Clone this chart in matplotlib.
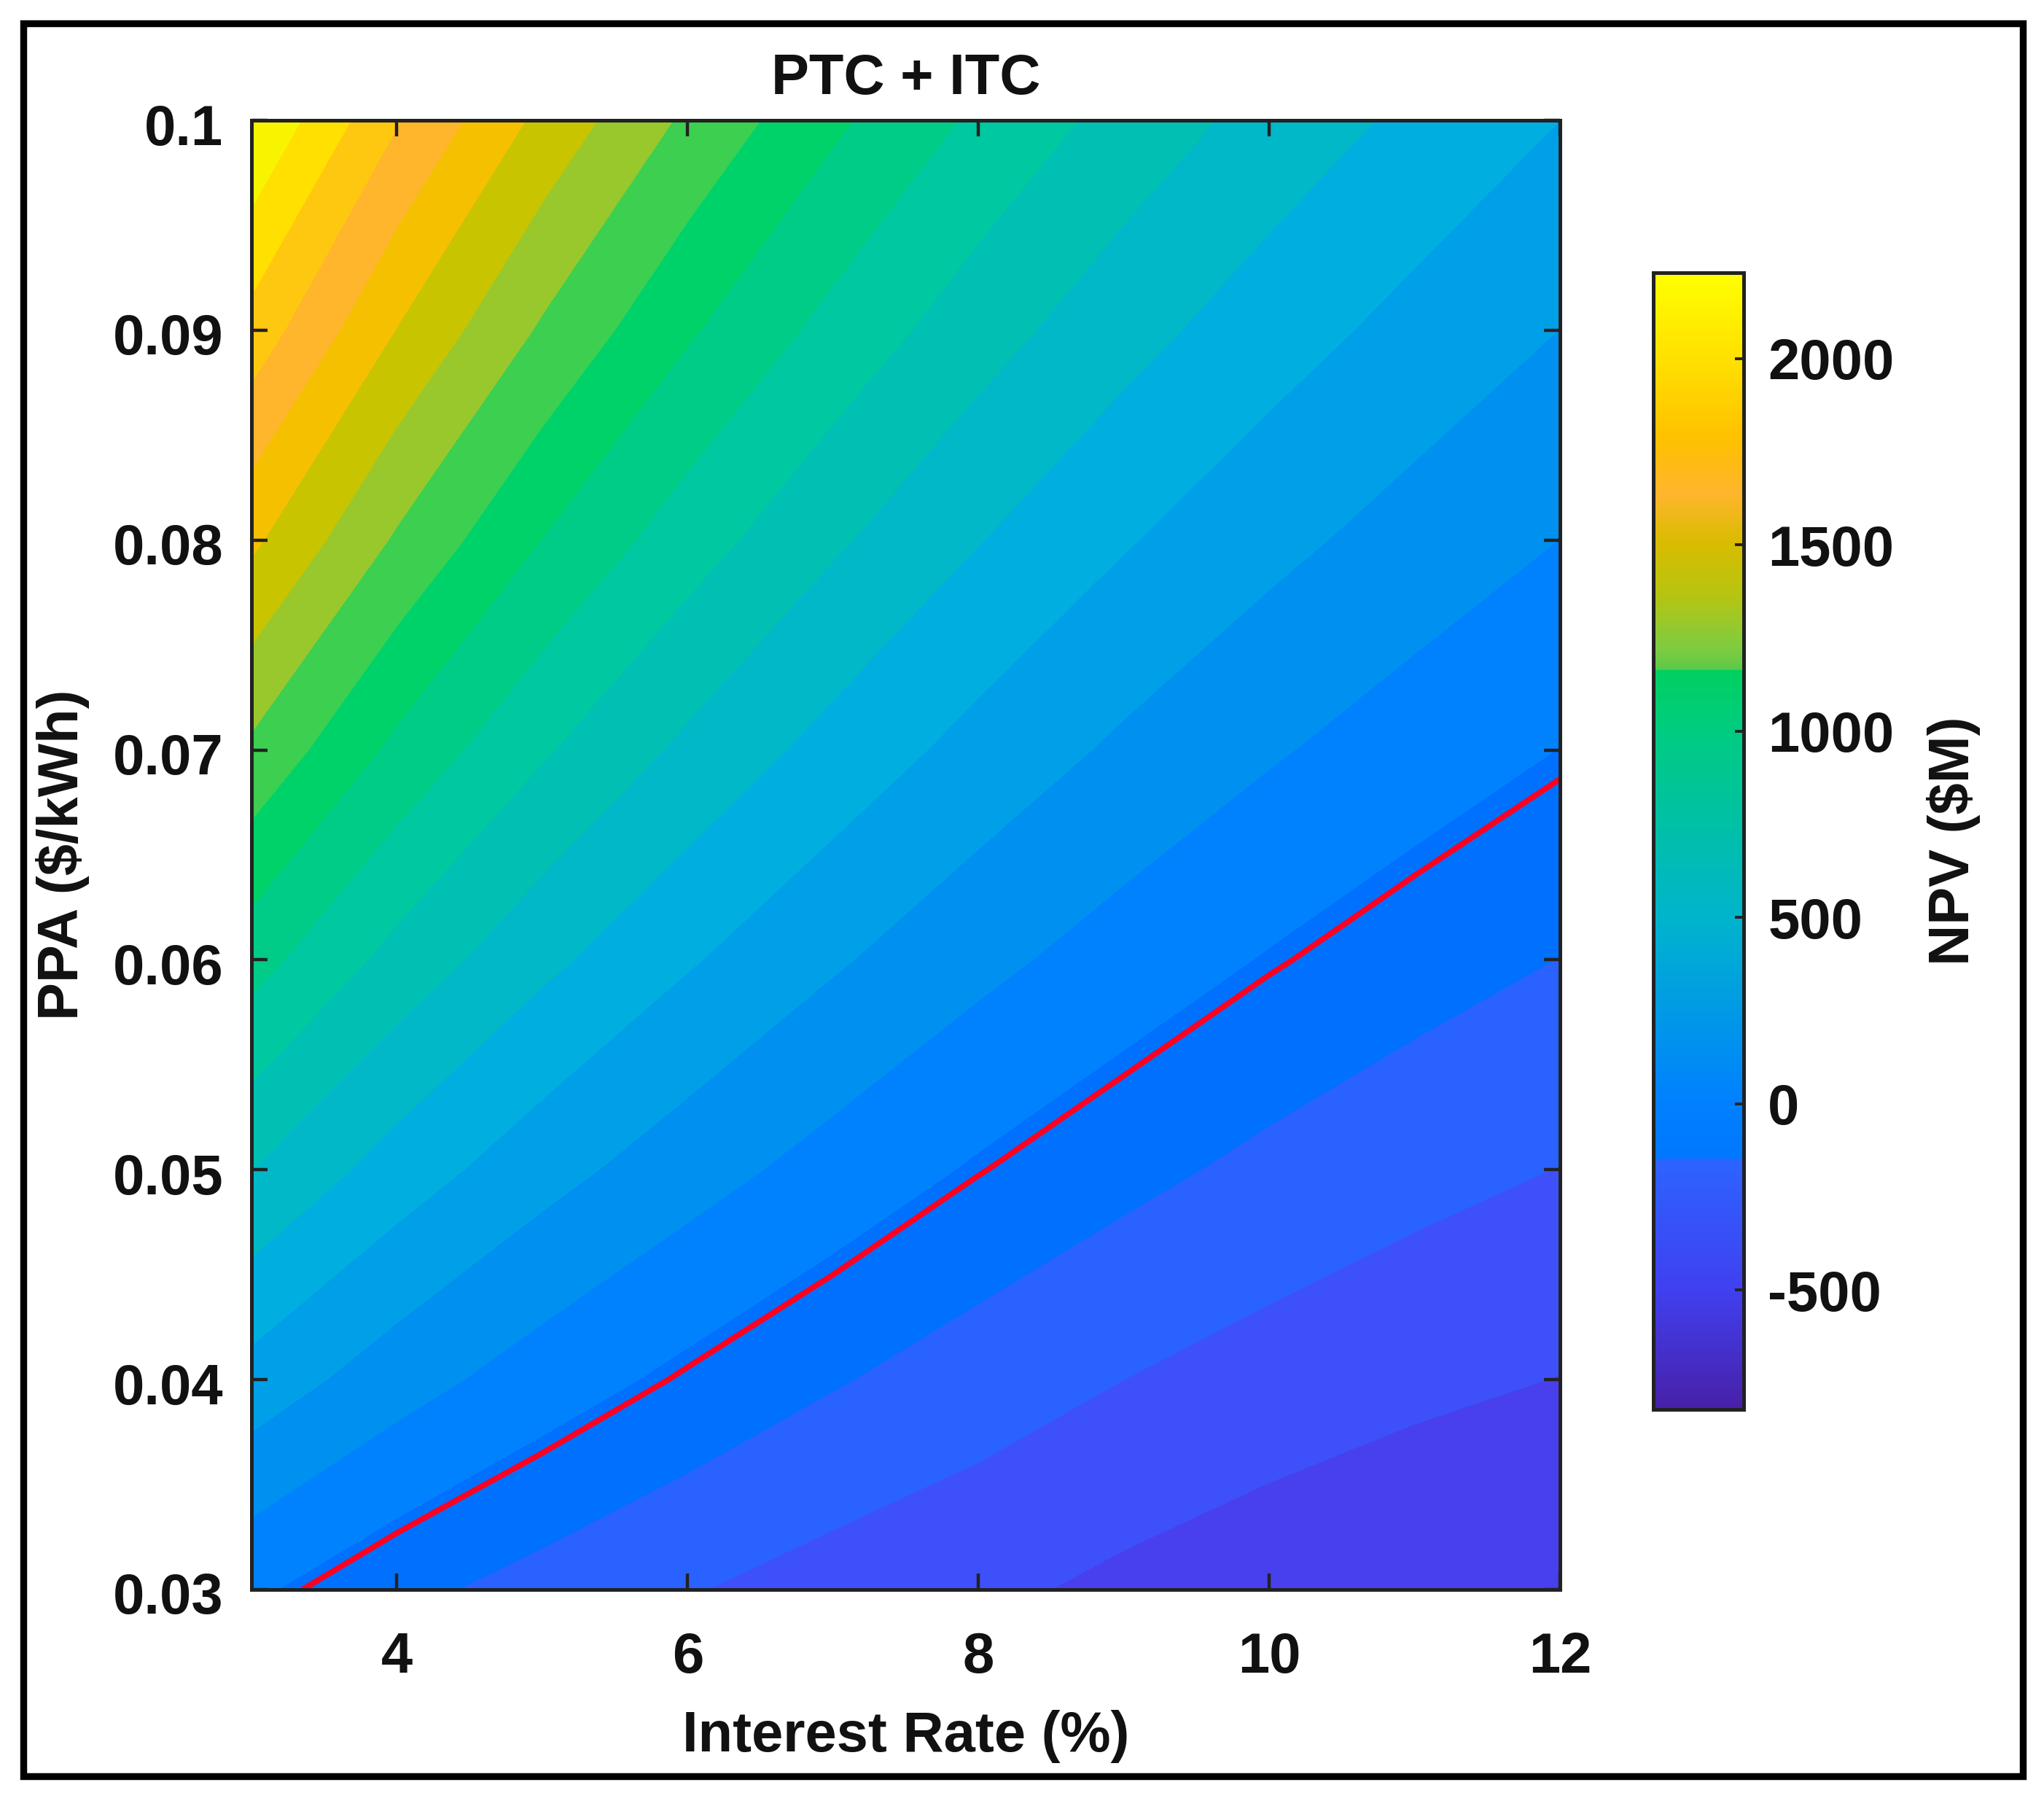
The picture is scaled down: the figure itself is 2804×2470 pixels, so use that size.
import matplotlib
matplotlib.use("Agg")
import matplotlib.pyplot as plt
import numpy as np
from matplotlib.cm import ScalarMappable
from matplotlib.colors import LinearSegmentedColormap, Normalize
from matplotlib.patches import Rectangle
from matplotlib.transforms import ScaledTranslation

# data
INTEREST_RATE = [3, 4, 5, 6, 7, 8, 9, 10, 11, 12]
PPA = [0.03, 0.04, 0.05, 0.06, 0.07, 0.08, 0.09, 0.10]
NPV_AT_3 = [41, 359, 671, 982, 1294, 1606, 1918, 2230]
NPV_AT_4 = [-76, 206, 480, 754, 1028, 1302, 1576, 1850]
NPV_AT_5 = [-158, 85, 328, 572, 815, 1058, 1302, 1545]
NPV_AT_6 = [-231, -13, 205, 423, 641, 859, 1077, 1295]
NPV_AT_7 = [-296, -99, 99, 296, 493, 690, 888, 1085]
NPV_AT_8 = [-340, -175, 5, 185, 365, 545, 725, 905]
NPV_AT_9 = [-400, -240, -74, 91, 256, 421, 587, 752]
NPV_AT_10 = [-448, -295, -142, 11, 164, 316, 469, 622]
NPV_AT_11 = [-482, -340, -198, -57, 85, 227, 368, 510]
NPV_AT_12 = [-498, -373, -243, -112, 18, 149, 279, 410]

LEVELS = [-500, -370, -240, -110, 20, 150, 280, 410, 540, 670, 800, 930, 1060,
          1190, 1320, 1450, 1580, 1710, 1840, 1970, 2100, 2230]
BAND_COLORS = ["#4840ec", "#3e50fa", "#2a62ff", "#0070ff", "#0082ff", "#0090f0",
               "#00a0e8", "#00aee0", "#00b8c8", "#00c0b4", "#00c8a0", "#00cc88",
               "#00d26a", "#3ccf50", "#98c82c", "#c8c400", "#f5c000", "#ffb52c",
               "#ffc810", "#ffe000", "#f8f400"]

XTICKS = [4, 6, 8, 10, 12]
YTICKS = [0.03, 0.04, 0.05, 0.06, 0.07, 0.08, 0.09, 0.1]
YTICK_LABELS = ["0.03", "0.04", "0.05", "0.06", "0.07", "0.08", "0.09", "0.1"]
CBAR_TICKS = [-500, 0, 500, 1000, 1500, 2000]
CBAR_MIN = -820
CBAR_MAX = 2230
CBAR_VALUES = [-820, -500, -152, -148, 0, 500, 1000, 1164, 1168, 1228, 1372, 1506,
               1640, 1784, 2000, 2230]
CBAR_COLORS = ["#4820a8", "#4040f0", "#2c64ff", "#0078ff", "#0080ff", "#00b4cc",
               "#00cc80", "#00d060", "#60c848", "#80cc40", "#b8c410", "#d8bc00",
               "#ffb52c", "#ffc000", "#ffe000", "#ffff00"]

# layout in pixels
W, H = 2804, 2470
DPI = 200
FONT = 28
TEXT_COLOR = "#111111"
FRAME_COLOR = "#222222"


def px_box(left, top, right, bottom):
    return [left / W, 1 - bottom / H, (right - left) / W, (bottom - top) / H]


def main():
    plt.rcParams["font.family"] = ["Liberation Sans", "DejaVu Sans"]
    plt.rcParams["font.weight"] = "bold"
    plt.rcParams["axes.unicode_minus"] = False

    npv = np.array([NPV_AT_3, NPV_AT_4, NPV_AT_5, NPV_AT_6, NPV_AT_7, NPV_AT_8,
                    NPV_AT_9, NPV_AT_10, NPV_AT_11, NPV_AT_12]).T

    fig = plt.figure(figsize=(W / DPI, H / DPI), dpi=DPI, facecolor="white")

    # outer black border of the panel
    fig.add_artist(Rectangle((32 / W, 1 - 2436 / H), (2775 - 32) / W, (2436 - 32) / H,
                             transform=fig.transFigure, fill=False,
                             edgecolor="black", linewidth=3.4))

    ax = fig.add_axes(px_box(345, 165, 2140, 2180))
    ax.contourf(INTEREST_RATE, PPA, npv, levels=LEVELS, colors=BAND_COLORS)
    ax.contour(INTEREST_RATE, PPA, npv, levels=[0], colors="#ff0020", linewidths=2.8)
    ax.set_xlim(3, 12)
    ax.set_ylim(0.03, 0.1)
    ax.set_xticks(XTICKS)
    ax.set_yticks(YTICKS)
    ax.set_yticklabels(YTICK_LABELS)
    ax.tick_params(axis="x", direction="in", top=True, length=8, width=1.6,
                   labelsize=FONT, pad=20.5, color=FRAME_COLOR, labelcolor=TEXT_COLOR)
    ax.tick_params(axis="y", direction="in", right=True, length=8, width=1.6,
                   labelsize=FONT, pad=14, color=FRAME_COLOR, labelcolor=TEXT_COLOR)
    # y labels sit a little below their ticks in the original
    shift = ScaledTranslation(0, -5 / DPI, fig.dpi_scale_trans)
    for label in ax.get_yticklabels():
        label.set_transform(label.get_transform() + shift)
    for spine in ax.spines.values():
        spine.set_linewidth(1.8)
        spine.set_color(FRAME_COLOR)
    ax.set_title("PTC + ITC", fontsize=FONT, fontweight="bold", color=TEXT_COLOR, pad=13)
    ax.set_xlabel("Interest Rate (%)", fontsize=FONT, fontweight="bold",
                  color=TEXT_COLOR, labelpad=12.5)
    ax.set_ylabel("PPA ($/kWh)", fontsize=FONT, fontweight="bold",
                  color=TEXT_COLOR, labelpad=11.5)

    positions = [(v - CBAR_MIN) / (CBAR_MAX - CBAR_MIN) for v in CBAR_VALUES]
    cmap = LinearSegmentedColormap.from_list("npv", list(zip(positions, CBAR_COLORS)), N=512)
    cax = fig.add_axes(px_box(2268, 374, 2392, 1933))
    cbar = fig.colorbar(ScalarMappable(Normalize(CBAR_MIN, CBAR_MAX), cmap), cax=cax,
                        ticks=CBAR_TICKS)
    cbar.ax.tick_params(direction="in", length=4.5, width=1.4, labelsize=FONT, pad=12,
                        color=FRAME_COLOR, labelcolor=TEXT_COLOR)
    cbar.outline.set_linewidth(1.8)
    cbar.outline.set_edgecolor(FRAME_COLOR)
    cbar.set_label("NPV ($M)", fontsize=FONT, fontweight="bold", color=TEXT_COLOR, labelpad=16)

    fig.savefig("out.png", dpi=DPI, facecolor="white")
    plt.close(fig)


if __name__ == "__main__":
    main()
